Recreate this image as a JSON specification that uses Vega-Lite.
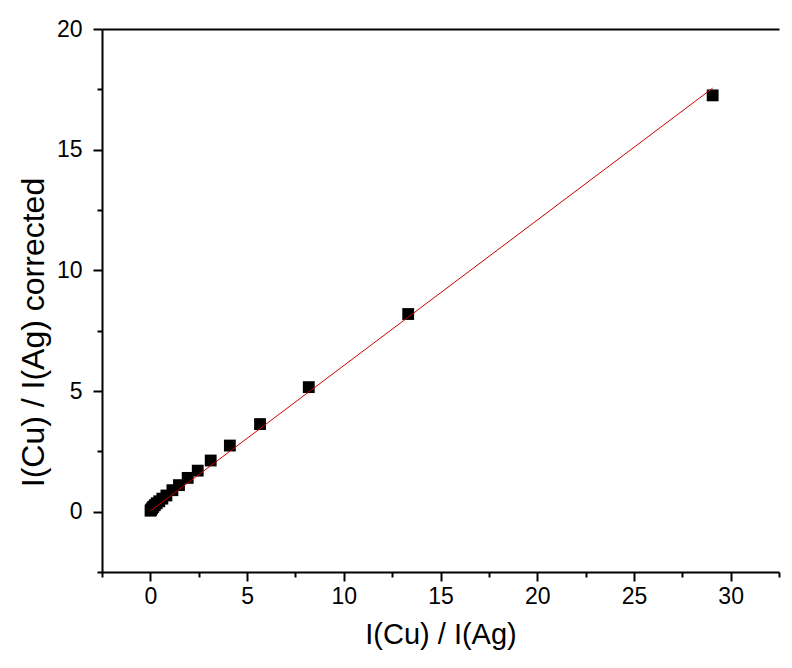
{
  "$schema": "https://vega.github.io/schema/vega-lite/v6.json",
  "width": 677,
  "height": 543,
  "autosize": "none",
  "padding": {"left": 102, "top": 29, "right": 13, "bottom": 96},
  "background": "white",
  "config": {
    "view": {"stroke": null},
    "font": "Liberation Sans",
    "axis": {
      "domainColor": "black",
      "domainWidth": 2,
      "tickColor": "black",
      "tickWidth": 2,
      "grid": false,
      "labelColor": "black",
      "labelFont": "Liberation Sans",
      "labelFontSize": 23,
      "titleColor": "black",
      "titleFont": "Liberation Sans",
      "titleFontWeight": "normal"
    }
  },
  "datasets": {
    "points": [
      {"ratio": 29.07, "corrected": 17.25},
      {"ratio": 13.33, "corrected": 8.19},
      {"ratio": 8.19, "corrected": 5.16},
      {"ratio": 5.67, "corrected": 3.63},
      {"ratio": 4.11, "corrected": 2.74},
      {"ratio": 3.12, "corrected": 2.12},
      {"ratio": 2.45, "corrected": 1.7},
      {"ratio": 1.93, "corrected": 1.4},
      {"ratio": 1.48, "corrected": 1.1},
      {"ratio": 1.14, "corrected": 0.89},
      {"ratio": 0.83, "corrected": 0.67},
      {"ratio": 0.62, "corrected": 0.54},
      {"ratio": 0.46, "corrected": 0.43},
      {"ratio": 0.33, "corrected": 0.35},
      {"ratio": 0.23, "corrected": 0.27},
      {"ratio": 0.15, "corrected": 0.2},
      {"ratio": 0.09, "corrected": 0.14},
      {"ratio": 0.04, "corrected": 0.08},
      {"ratio": 0.01, "corrected": 0.04}
    ],
    "fit": [
      {"ratio": 0.01, "corrected": 0.03},
      {"ratio": 29.07, "corrected": 17.55}
    ]
  },
  "resolve": {"axis": {"x": "independent"}},
  "layer": [
    {
      "data": {"name": "points"},
      "mark": {"type": "square", "size": 140, "color": "black", "opacity": 1},
      "encoding": {
        "x": {
          "field": "ratio",
          "type": "quantitative",
          "scale": {"domain": [-2.5, 32.5], "nice": false, "zero": false},
          "axis": {
            "orient": "bottom",
            "title": "I(Cu) / I(Ag)",
            "titleFontSize": 29,
            "titlePadding": 12,
            "values": [-2.5, 0, 2.5, 5, 7.5, 10, 12.5, 15, 17.5, 20, 22.5, 25, 27.5, 30, 32.5],
            "labelExpr": "datum.value % 5 === 0 ? datum.label : ''",
            "tickSize": {"condition": {"test": "datum.value % 5 === 0", "value": 9}, "value": 5},
            "labelPadding": 4,
            "labelFlush": false,
            "labelOverlap": false
          }
        },
        "y": {
          "field": "corrected",
          "type": "quantitative",
          "scale": {"domain": [-2.5, 20], "nice": false, "zero": false},
          "axis": {
            "orient": "left",
            "title": "I(Cu) / I(Ag) corrected",
            "titleFontSize": 32,
            "titlePadding": 6,
            "titleY": 303,
            "values": [-2.5, 0, 2.5, 5, 7.5, 10, 12.5, 15, 17.5, 20],
            "labelExpr": "datum.value % 5 === 0 ? datum.label : ''",
            "tickSize": {"condition": {"test": "datum.value % 5 === 0", "value": 9}, "value": 5},
            "labelPadding": 11,
            "labelFlush": false,
            "labelOverlap": false
          }
        }
      }
    },
    {
      "data": {"name": "fit"},
      "mark": {"type": "line", "color": "#cc0000", "strokeWidth": 1},
      "encoding": {
        "x": {
          "field": "ratio",
          "type": "quantitative",
          "axis": {
            "orient": "top",
            "title": null,
            "labels": false,
            "ticks": false
          }
        },
        "y": {"field": "corrected", "type": "quantitative"}
      }
    }
  ]
}
